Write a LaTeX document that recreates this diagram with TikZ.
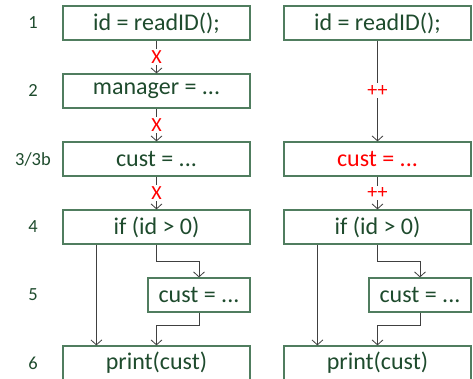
\documentclass[tikz,border=0pt]{standalone}
\usepackage{fontspec}
\setmainfont{Carlito}
\usetikzlibrary{arrows.meta}
\definecolor{codetext}{RGB}{30,75,45}
\definecolor{boxline}{RGB}{80,125,95}
\definecolor{wire}{RGB}{64,64,64}
\tikzset{
  stmt/.style={draw=boxline, line width=1.2pt, text=codetext, inner sep=0pt,
    minimum width=187pt, minimum height=34pt,
    font=\fontsize{24}{28}\selectfont},
  smallstmt/.style={stmt, minimum width=102pt},
  rowlbl/.style={text=codetext, font=\fontsize{18.5}{22}\selectfont},
  conn/.style={draw=wire, line width=0.8pt, -{Straight Barb[length=5pt,width=11pt]}},
  killlbl/.style={fill=white, text=red, inner sep=2pt, font=\fontsize{20}{24}\selectfont},
}
\begin{document}
\begin{tikzpicture}[x=1pt, y=-1pt]
  \useasboundingbox (0,0) rectangle (473,379);
  \clip (0,0) rectangle (473,379);

  % row numbers
  \node[rowlbl] (n1) at (33,23) {1};
  \node[rowlbl] (n2) at (33,91) {2};
  \node[rowlbl] (n3) at (33,159) {3/3b};
  \node[rowlbl] (n4) at (33,227) {4};
  \node[rowlbl] (n5) at (33,295) {5};
  \node[rowlbl] (n6) at (33,363) {6};

  % left column
  \node[stmt] (l1) at (156.5,23) {id = readID();};
  \node[stmt] (l2) at (156.5,91) {manager = ...};
  \node[stmt] (l3) at (156.5,159) {cust = ...};
  \node[stmt] (l4) at (156.5,227) {if (id > 0)};
  \node[smallstmt] (l5) at (199,295) {cust = ...};
  \node[stmt] (l6) at (156.5,363) {print(cust)};

  % right column
  \node[stmt] (r1) at (377.5,23) {id = readID();};
  \node[stmt, text=red] (r3) at (377.5,159) {cust = ...};
  \node[stmt] (r4) at (377.5,227) {if (id > 0)};
  \node[smallstmt] (r5) at (420,295) {cust = ...};
  \node[stmt] (r6) at (377.5,363) {print(cust)};

  % left column edges
  \draw[conn] (l1) -- node[killlbl] {X} (l2);
  \draw[conn] (l2) -- node[killlbl] {X} (l3);
  \draw[conn] (l3) -- node[killlbl] {X} (l4);
  \draw[conn] ([xshift=34pt]l4.south west) -- ([xshift=34pt]l6.north west);
  \draw[conn] (l4.south) -- ++(0,17) -| (l5.north);
  \draw[conn] (l5.south) -- ++(0,13) -| (l6.north);

  % right column edges
  \draw[conn] (r1) -- node[killlbl] {++} (r3);
  \draw[conn] (r3) -- node[killlbl] {++} (r4);
  \draw[conn] ([xshift=34pt]r4.south west) -- ([xshift=34pt]r6.north west);
  \draw[conn] (r4.south) -- ++(0,17) -| (r5.north);
  \draw[conn] (r5.south) -- ++(0,13) -| (r6.north);
\end{tikzpicture}
\end{document}
